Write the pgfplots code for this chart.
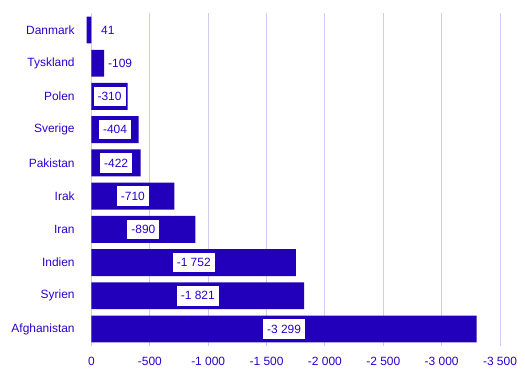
\documentclass[border=0pt]{standalone}
\usepackage{fontspec}
\setmainfont{Liberation Sans}
\usepackage{pgfplots}
\pgfplotsset{compat=1.18}
\usepackage{pgfplotstable}
\definecolor{barc}{RGB}{34,0,187}
\definecolor{txtc}{RGB}{45,0,205}
\definecolor{gridc}{RGB}{208,202,242}

\pgfplotstableread[col sep=comma]{
y,v
0,41
1,-109
2,-310
3,-404
4,-422
5,-710
6,-890
7,-1752
8,-1821
9,-3299
}\bardata

\pgfplotstableread[col sep=comma]{
y,v,label
2,-310,-310
3,-404,-404
4,-422,-422
5,-710,-710
6,-890,-890
7,-1752,-1 752
8,-1821,-1 821
9,-3299,-3 299
}\insidelabels

\pgfplotstableread[col sep=comma]{
y,lx,label
0,-81,41
1,-141,-109
}\outsidelabels

\begin{document}
\begin{tikzpicture}
\useasboundingbox (0,0) rectangle (525bp,379bp);
\begin{axis}[
  at={(85.66bp,33.4bp)}, anchor=south west,
  scale only axis, width=414.34bp, height=332.2bp,
  font=\fontsize{12}{14}\selectfont,
  x dir=reverse, y dir=reverse,
  xmin=-3500, xmax=50, ymin=-0.5, ymax=9.5,
  axis line style={draw=none},
  major tick length=0pt,
  xtick={0,-500,-1000,-1500,-2000,-2500,-3000,-3500},
  xticklabels={0,-500,-1 000,-1 500,-2 000,-2 500,-3 000,-3 500},
  ytick={0,1,2,3,4,5,6,7,8,9},
  yticklabels={Danmark,Tyskland,Polen,Sverige,Pakistan,Irak,Iran,Indien,Syrien,Afghanistan},
  xmajorgrids, grid style={gridc, line width=0.9pt},
  xticklabel style={text=txtc, yshift=-8.5bp},
  yticklabel style={text=txtc, xshift=-7.5bp},
]
\addplot[xbar, bar width=0.81, fill=barc, draw=none] table[x=v, y=y] {\bardata};
\addplot[draw=none, mark=none, nodes near coords, point meta=explicit symbolic,
  nodes near coords style={anchor=center, fill=white, text=txtc, inner xsep=4bp, inner ysep=5.5bp, font=\fontsize{12}{14}\selectfont}]
  table[x expr=\thisrow{v}/2, y=y, meta=label] {\insidelabels};
\addplot[draw=none, mark=none, nodes near coords, point meta=explicit symbolic,
  nodes near coords style={anchor=west, text=txtc, inner sep=0pt, font=\fontsize{12}{14}\selectfont}]
  table[x=lx, y=y, meta=label] {\outsidelabels};
\end{axis}
\end{tikzpicture}
\end{document}
